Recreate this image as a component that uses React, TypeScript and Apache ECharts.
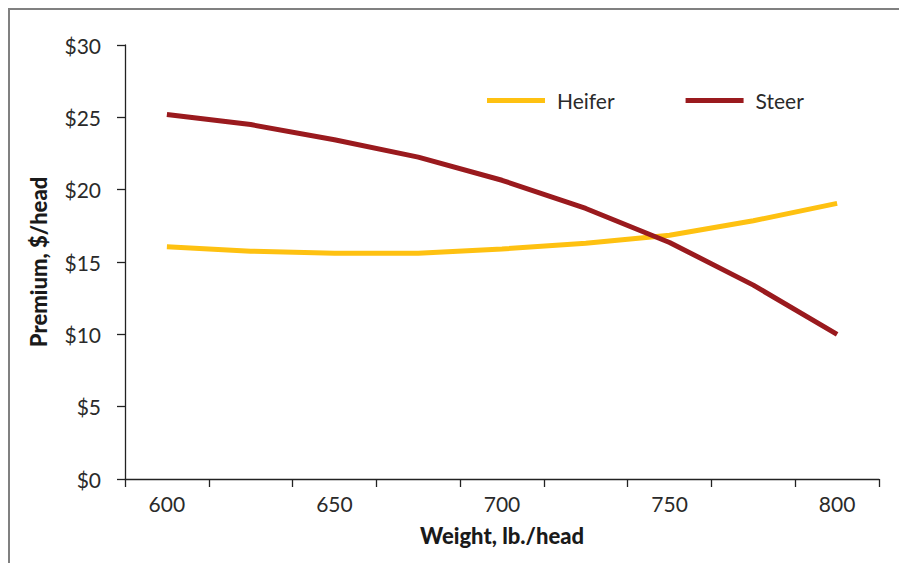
import React, { useEffect, useRef } from "react";
import * as echarts from "echarts";

const weights = ["600", "625", "650", "675", "700", "725", "750", "775", "800"];
const heifer = [16.05, 15.75, 15.6, 15.6, 15.9, 16.3, 16.85, 17.85, 19.05];
const steer = [25.2, 24.5, 23.45, 22.25, 20.65, 18.7, 16.35, 13.4, 10.0];
const yTicks = { min: 0, max: 30, interval: 5 };

const labelFont = "Lato, 'Open Sans', sans-serif";
const titleFont = "Lato, 'DejaVu Sans', sans-serif";

export default function App() {
  const ref = useRef<HTMLDivElement>(null);
  useEffect(() => {
    if (!ref.current) return;
    const chart = echarts.init(ref.current, null, { renderer: "svg" });
    chart.setOption({
      animation: false,
      backgroundColor: "#ffffff",
      graphic: [
        { type: "line", shape: { x1: 8, y1: 9, x2: 899, y2: 9 }, style: { stroke: "#808080", lineWidth: 2 } },
        { type: "line", shape: { x1: 9, y1: 9, x2: 9, y2: 563 }, style: { stroke: "#808080", lineWidth: 2 } },
      ],
      grid: { left: 125, top: 45, right: 20, bottom: 84 },
      legend: {
        left: 482,
        top: 85,
        itemWidth: 58,
        itemHeight: 5,
        itemGap: 71,
        icon: "rect",
        textStyle: { fontFamily: labelFont, fontSize: 21, color: "#2a2a2a", padding: [0, 0, 0, 7] },
        data: ["Heifer", "Steer"],
      },
      xAxis: {
        type: "category",
        data: weights,
        boundaryGap: true,
        name: "Weight, lb./head",
        nameLocation: "middle",
        nameGap: 45,
        nameTextStyle: { fontFamily: titleFont, fontWeight: 900, fontSize: 22, color: "#1a1a1a" },
        axisLine: { lineStyle: { color: "#222", width: 1.3 } },
        axisTick: { show: true, interval: 0, length: 8, lineStyle: { color: "#222", width: 1.3 } },
        axisLabel: { interval: 1, margin: 14, fontFamily: labelFont, fontSize: 21, color: "#2a2a2a" },
        splitLine: { show: false },
      },
      yAxis: {
        type: "value",
        min: yTicks.min,
        max: yTicks.max,
        interval: yTicks.interval,
        name: "Premium, $/head",
        nameLocation: "middle",
        nameGap: 76,
        nameTextStyle: { fontFamily: titleFont, fontWeight: 900, fontSize: 22, color: "#1a1a1a" },
        axisLine: { show: true, lineStyle: { color: "#222", width: 1.3 } },
        axisTick: { show: true, length: 8, lineStyle: { color: "#222", width: 1.3 } },
        axisLabel: { margin: 24, fontFamily: labelFont, fontSize: 21, color: "#2a2a2a", formatter: (v: number) => "$" + v },
        splitLine: { show: false },
      },
      series: [
        { name: "Heifer", type: "line", data: heifer, symbol: "none", lineStyle: { width: 5, color: "#FEC111" }, itemStyle: { color: "#FEC111" } },
        { name: "Steer", type: "line", data: steer, symbol: "none", lineStyle: { width: 5, color: "#9A1A1E" }, itemStyle: { color: "#9A1A1E" } },
      ],
    });
    return () => chart.dispose();
  }, []);
  return <div ref={ref} style={{ position: "absolute", left: 0, top: 0, width: 899, height: 563 }} />;
}
